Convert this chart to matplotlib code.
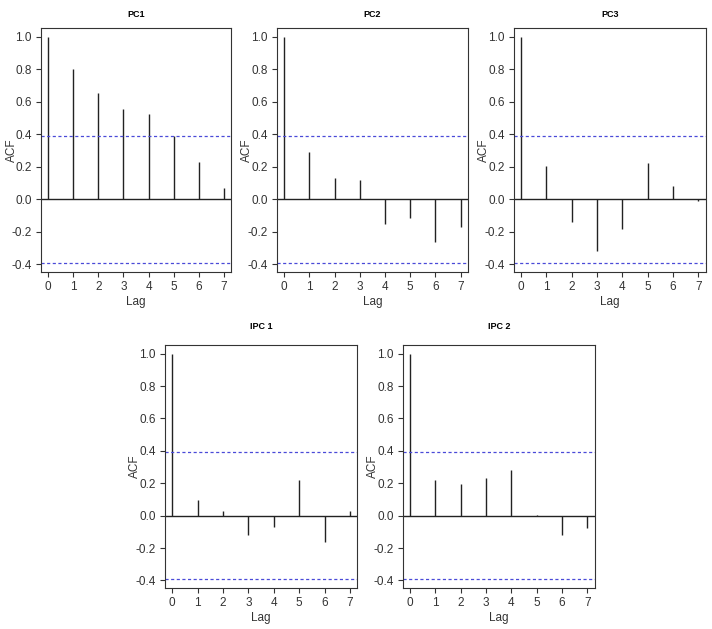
import matplotlib.pyplot as plt
import numpy as np

plt.rcParams['font.family'] = ['Liberation Sans', 'DejaVu Sans']

lags = [0, 1, 2, 3, 4, 5, 6, 7]
pc1 = [1.0, 0.80, 0.655, 0.556, 0.525, 0.388, 0.229, 0.068]
pc2 = [1.0, 0.291, 0.130, 0.118, -0.155, -0.116, -0.260, -0.169]
pc3 = [1.0, 0.205, -0.140, -0.320, -0.186, 0.225, 0.081, -0.012]
ipc1 = [1.0, 0.097, 0.029, -0.118, -0.068, 0.217, -0.161, 0.029]
ipc2 = [1.0, 0.221, 0.198, 0.233, 0.279, 0.004, -0.122, -0.074]
titles = ['PC1', 'PC2', 'PC3', 'IPC 1', 'IPC 2']
series = [pc1, pc2, pc3, ipc1, ipc2]
clim = 0.392

# positions of the panels (left, bottom, width, height)
boxes = [
    [0.0576, 0.5676, 0.267, 0.388],
    [0.389, 0.5676, 0.268, 0.388],
    [0.722, 0.5676, 0.269, 0.388],
    [0.2317, 0.065, 0.270, 0.387],
    [0.566, 0.065, 0.269, 0.387],
]

fig = plt.figure(figsize=(7.12, 6.29), dpi=100)

for i in range(5):
    ax = fig.add_axes(boxes[i])
    ax.vlines(lags, 0, series[i], color='#222222', lw=1.0)
    ax.axhline(0, color='#222222', lw=1.0)
    ax.axhline(clim, color='#4a4ad8', lw=0.9, ls=(0, (2.5, 2)))
    ax.axhline(-clim, color='#4a4ad8', lw=0.9, ls=(0, (2.5, 2)))
    ax.set_xlim(-0.28, 7.28)
    ax.set_ylim(-clim - 0.0557, 1.0557)
    ax.set_xticks(lags)
    ax.set_yticks([-0.4, -0.2, 0.0, 0.2, 0.4, 0.6, 0.8, 1.0])
    ax.set_yticklabels(['-0.4', '-0.2', '0.0', '0.2', '0.4', '0.6', '0.8', '1.0'])
    ax.tick_params(labelsize=8.5, colors='#333333', length=3.5, width=0.8, pad=3)
    for s in ax.spines.values():
        s.set_color('#333333')
        s.set_linewidth(0.8)
    ax.set_xlabel('Lag', fontsize=8.5, color='#333333', labelpad=2)
    ax.set_ylabel('ACF', fontsize=8.5, color='#333333', va='center')
    ax.yaxis.set_label_coords(-0.155, 0.5)
    if i < 3:
        ax.set_title(titles[i], fontsize=6.5, fontweight='bold', pad=8)
    else:
        ax.set_title(titles[i], fontsize=6.5, fontweight='bold', pad=11)

plt.savefig('out.png', dpi=100)
